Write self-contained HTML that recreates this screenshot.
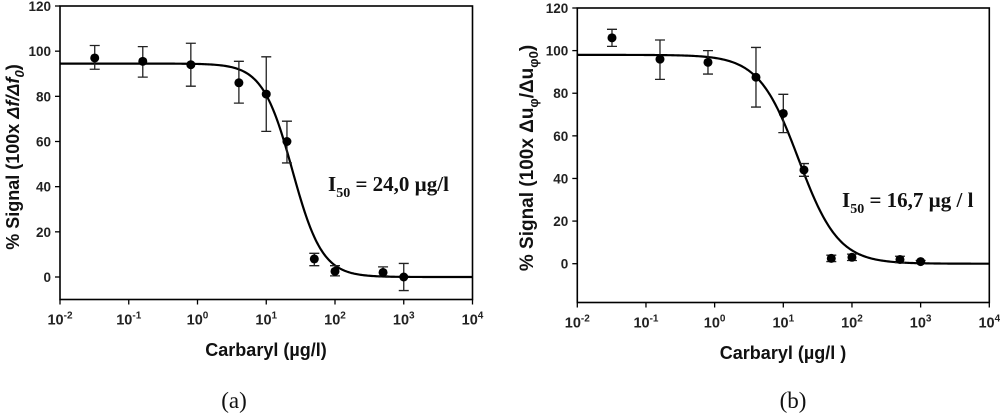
<!DOCTYPE html>
<html><head><meta charset="utf-8"><style>
html,body{margin:0;padding:0;background:#fff;width:1000px;height:413px;overflow:hidden}
svg{display:block}
text{font-family:"Liberation Sans",Arial,sans-serif}
</style></head><body>
<svg id="fig" width="1000" height="413" viewBox="0 0 1000 413" xmlns="http://www.w3.org/2000/svg"></svg>
<script>
// ---- data ----
const concentrations = [0.032, 0.16, 0.8, 4, 10, 20, 50, 100, 500, 1000];
const signalA = [97, 95.5, 94, 86, 81, 60, 8, 2.5, 2, 0];
const errHiA = [102.5, 102, 103.5, 95.5, 97.5, 69, 10.5, 5, 4.5, 6];
const errLoA = [92, 88.5, 84.5, 77, 64.5, 50.5, 5, 0.5, 0.5, -6];
const signalB = [106, 96, 94.5, 87.5, 70.5, 44, 2.5, 3, 2, 1];
const errHiB = [110, 105, 100, 101.5, 79.5, 47, 4, 4.5, 3.5, 1.5];
const errLoB = [102, 86.5, 89, 73.5, 61.5, 41, 1, 1.5, 0.5, 0.5];
const fitA = [94.5, 0, 24.0, 2.0];   // top, bottom, I50, slope
const fitB = [98, 0, 16.7, 1.5];
const yTicks = [0, 20, 40, 60, 80, 100, 120];
const xExps = [-2, -1, 0, 1, 2, 3, 4];

const NS = "http://www.w3.org/2000/svg";
const svg = document.getElementById('fig');
function mk(tag, attrs, parent) {
  const e = document.createElementNS(NS, tag);
  for (const k in attrs) e.setAttribute(k, attrs[k]);
  (parent || svg).appendChild(e);
  return e;
}

function panel(cfg) {
  const g = mk('g', {});
  
  
  const xs = v => cfg.x0 + (Math.log10(v) + 2) / 6 * (cfg.x1 - cfg.x0);
  const ys = v => cfg.y0 + (v / 120) * (cfg.yTop - cfg.y0);
  const box = mk('rect', {x: cfg.x0, y: ys(120), width: cfg.x1 - cfg.x0, height: cfg.yBot - ys(120), fill: 'none', stroke: '#000', 'stroke-width': 1.6}, g);
  
  
  yTicks.forEach(t => {
    mk('line', {x1: cfg.x0 - 5, x2: cfg.x0, y1: ys(t), y2: ys(t), stroke: '#000', 'stroke-width': 1.3}, g);
    const tx = mk('text', {x: cfg.x0 - 9, y: ys(t) + 5, 'text-anchor': 'end', 'font-size': 13.5, 'font-weight': 'bold', fill: '#222'}, g);
    tx.textContent = t;
    
    
  });
  xExps.forEach(e => {
    const x = xs(Math.pow(10, e));
    mk('line', {x1: x, x2: x, y1: cfg.yBot, y2: cfg.yBot + 5, stroke: '#000', 'stroke-width': 1.3}, g);
    const tx = mk('text', {x: x, y: cfg.yBot + 25, 'text-anchor': 'middle', 'font-size': 14.5, 'font-weight': 'bold', fill: '#222'}, g);
    
    
    tx.appendChild(document.createTextNode('10'));
    const sp = mk('tspan', {dy: -6, 'font-size': 10}, tx);
    sp.textContent = e;
  });
  const f = cfg.fit;
  let d = '';
  for (let i = 0; i <= 300; i++) {
    const lx = -2 + 6 * i / 300, x = Math.pow(10, lx);
    const y = f[1] + (f[0] - f[1]) / (1 + Math.pow(x / f[2], f[3]));
    d += (i ? 'L' : 'M') + xs(x).toFixed(2) + ' ' + ys(y).toFixed(2);
  }
  const c = mk('path', {d: d, fill: 'none', stroke: '#000', 'stroke-width': 2.2}, g);
  
  
  concentrations.forEach((cv, i) => {
    const x = xs(cv);
    const eb = mk('path', {d: `M${x} ${ys(cfg.hi[i])}V${ys(cfg.lo[i])}M${x-5} ${ys(cfg.hi[i])}H${x+5}M${x-5} ${ys(cfg.lo[i])}H${x+5}`, stroke: '#222', 'stroke-width': 1.3, fill: 'none'}, g);
    
    
    const p = mk('circle', {cx: x, cy: ys(cfg.vals[i]), r: 4.5, fill: '#000'}, g);
    
    
  });
  const yt = mk('text', {x: 0, y: 0, transform: `translate(${cfg.ytX},${cfg.ytY}) rotate(-90)`, 'text-anchor': 'middle', 'font-size': cfg.ytSize, 'font-weight': 'bold', fill: '#111'}, g);
  
  
  yt.innerHTML = cfg.ytitle;
  const xt = mk('text', {x: cfg.xtX, y: cfg.xtY, 'text-anchor': 'middle', 'font-size': 18, 'font-weight': 'bold', fill: '#111'}, g);
  
  
  xt.textContent = cfg.xtitle;
  const ann = mk('text', {x: cfg.annX, y: cfg.annY, 'font-size': 21, 'font-weight': 'bold', fill: '#111', style: 'font-family:"Liberation Serif",serif'}, g);
  
  
  ann.innerHTML = 'I<tspan dy="6" font-size="14">50</tspan><tspan dy="-6"> = ' + cfg.ann + '</tspan>';
  const lab = mk('text', {x: cfg.labX, y: 408, 'text-anchor': 'middle', 'font-size': 23, fill: '#111', style: 'font-family:"Liberation Serif",serif'}, g);
  
  
  lab.textContent = cfg.label;
}

panel({name: 'panel-a', x0: 60, x1: 472.5, y0: 277, yTop: 6, yBot: 299.5, fit: fitA, vals: signalA, hi: errHiA, lo: errLoA,
  ytX: 19, ytY: 157, ytSize: 18, ytitle: '% Signal (100x <tspan font-style="italic">Δf/Δf</tspan><tspan font-style="italic" dy="5" font-size="13">0</tspan><tspan dy="-5">)</tspan>',
  xtX: 266, xtY: 356, xtitle: 'Carbaryl (µg/l)', annX: 328, annY: 191, ann: '24,0 µg/l', labX: 234, label: '(a)'});
panel({name: 'panel-b', x0: 577.3, x1: 989.3, y0: 263.7, yTop: 8, yBot: 302.5, fit: fitB, vals: signalB, hi: errHiB, lo: errLoB,
  ytX: 533, ytY: 158, ytSize: 19, ytitle: '% Signal (100x Δu<tspan dy="5" font-size="13">φ</tspan><tspan dy="-5">/Δu</tspan><tspan dy="5" font-size="13">φ0</tspan><tspan dy="-5">)</tspan>',
  xtX: 783, xtY: 359, xtitle: 'Carbaryl (µg/l )', annX: 842, annY: 207, ann: '16,7 µg / l', labX: 793, label: '(b)'});
</script>
</body></html>
